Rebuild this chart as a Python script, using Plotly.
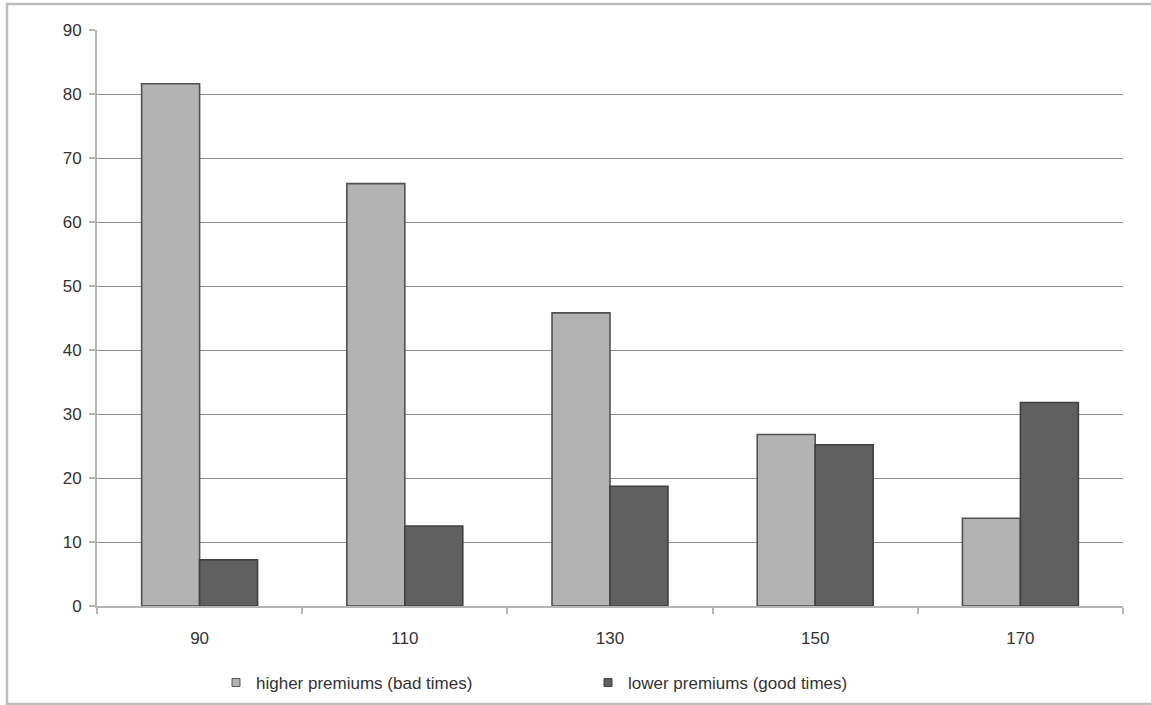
import plotly.graph_objects as go

categories = ["90", "110", "130", "150", "170"]
higher_premiums = [81.6, 66.0, 45.8, 26.8, 13.7]
lower_premiums = [7.2, 12.5, 18.7, 25.2, 31.8]
series_names = ["higher premiums (bad times)", "lower premiums (good times)"]
y_ticks = [0, 10, 20, 30, 40, 50, 60, 70, 80, 90]

light_fill, light_edge = "#b3b3b3", "#505050"
dark_fill, dark_edge = "#606060", "#404040"

fig = go.Figure()
fig.add_trace(go.Bar(x=categories, y=higher_premiums, name=series_names[0], showlegend=False,
                     marker=dict(color=light_fill, line=dict(color=light_edge, width=1.6))))
fig.add_trace(go.Bar(x=categories, y=lower_premiums, name=series_names[1], showlegend=False,
                     marker=dict(color=dark_fill, line=dict(color=dark_edge, width=1.6))))
# legend entries with small square keys
fig.add_trace(go.Scatter(x=[None], y=[None], mode="markers", name=series_names[0],
                         marker=dict(symbol="square", size=8, color=light_fill,
                                     line=dict(color=light_edge, width=1))))
fig.add_trace(go.Scatter(x=[None], y=[None], mode="markers", name=series_names[1],
                         marker=dict(symbol="square", size=8, color=dark_fill,
                                     line=dict(color=dark_edge, width=1))))

W, H = 1151, 705
L, R, T, B = 97, 28, 30, 99
PW, PH = W - L - R, H - T - B

fig.update_layout(
    width=W, height=H,
    margin=dict(l=L, r=R, t=T, b=B, autoexpand=False),
    paper_bgcolor="white", plot_bgcolor="white",
    barmode="group", bargap=0.435, bargroupgap=0,
    font=dict(family="Liberation Sans, Arial, sans-serif", size=17, color="#333333"),
    showlegend=True,
    legend=dict(orientation="h", x=(216 - L) / PW, xanchor="left", y=-(683 - (T + PH)) / PH,
                yanchor="middle", entrywidth=327, entrywidthmode="pixels", itemwidth=30,
                font=dict(size=17, color="#333333"), traceorder="normal",
                bgcolor="rgba(0,0,0,0)"),
    xaxis=dict(type="category", showgrid=False, showline=True, linecolor="#b5b5b5", linewidth=2,
               ticks="outside", tickson="boundaries", ticklen=6, tickcolor="#b5b5b5", tickwidth=1.5,
               ticklabelstandoff=16, tickfont=dict(size=17, color="#333333")),
    yaxis=dict(range=[0, 90], tickvals=y_ticks, showgrid=True, gridcolor="#8f8f8f", gridwidth=1,
               showline=True, linecolor="#b5b5b5", linewidth=2, ticks="outside", ticklen=6,
               tickcolor="#b5b5b5", tickwidth=1.5, ticklabelstandoff=4, zeroline=False,
               tickfont=dict(size=17, color="#333333")),
)

# outer chart frame
fig.add_shape(type="rect", xref="paper", yref="paper",
              x0=(7 - L) / PW, x1=(W + 10 - L) / PW,
              y0=-(704 - (T + PH)) / PH, y1=1 + (T - 4) / PH,
              line=dict(color="#bdbdbd", width=2.5), fillcolor="rgba(0,0,0,0)", layer="below")

fig.write_html("out.html")
